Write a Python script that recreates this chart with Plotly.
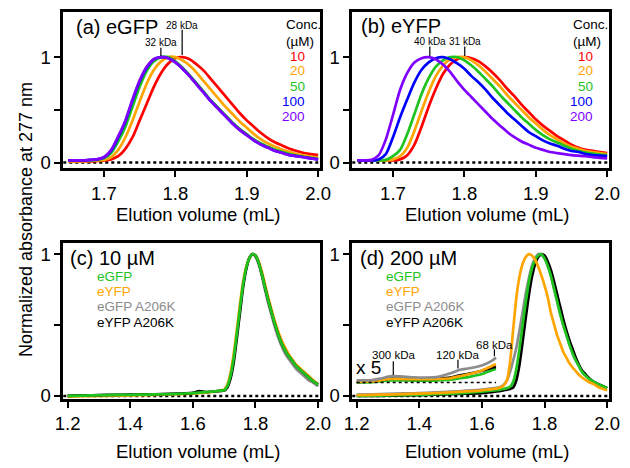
import plotly.graph_objects as go

W, H = 630, 468
FONT = "Liberation Sans, Arial, Helvetica, sans-serif"

def px(X):
    return X / W

def py(Y):
    return 1 - Y / H

# ---------------- data ----------------
conc_labels = ["10", "20", "50", "100", "200"]
conc_colors = ["#FF0000", "#FFA500", "#1FC41F", "#0000FF", "#7F00FF"]

x_top = [round(1.65 + 0.01 * i, 2) for i in range(36)]

# panel (a) eGFP
a_10 = [0.01, 0.01, 0.01, 0.01, 0.015, 0.02, 0.03, 0.06, 0.13, 0.24, 0.40, 0.56, 0.72, 0.85, 0.94, 0.99, 1.00, 0.98,
        0.93, 0.87, 0.79, 0.71, 0.63, 0.55, 0.47, 0.40, 0.34, 0.28, 0.23, 0.19, 0.16, 0.13, 0.11, 0.09, 0.08, 0.07]
a_20 = [0.01, 0.01, 0.01, 0.015, 0.02, 0.025, 0.05, 0.12, 0.24, 0.40, 0.58, 0.75, 0.88, 0.96, 1.00, 1.00, 0.97, 0.92,
        0.85, 0.77, 0.69, 0.61, 0.53, 0.46, 0.39, 0.33, 0.27, 0.22, 0.18, 0.15, 0.12, 0.10, 0.08, 0.065, 0.055, 0.05]
a_50 = [0.02, 0.02, 0.02, 0.02, 0.025, 0.04, 0.09, 0.20, 0.34, 0.53, 0.72, 0.87, 0.96, 1.00, 1.00, 0.96, 0.90, 0.83,
        0.75, 0.67, 0.59, 0.52, 0.45, 0.38, 0.32, 0.27, 0.22, 0.18, 0.15, 0.12, 0.10, 0.08, 0.065, 0.055, 0.045, 0.035]
a_100 = [0.02, 0.02, 0.02, 0.025, 0.03, 0.05, 0.11, 0.24, 0.39, 0.59, 0.77, 0.90, 0.98, 1.00, 0.99, 0.95, 0.89, 0.82,
         0.74, 0.66, 0.58, 0.51, 0.44, 0.37, 0.31, 0.26, 0.21, 0.17, 0.14, 0.11, 0.09, 0.07, 0.06, 0.05, 0.04, 0.03]
a_200 = [0.02, 0.02, 0.02, 0.025, 0.03, 0.05, 0.12, 0.25, 0.40, 0.60, 0.78, 0.91, 0.98, 1.00, 0.99, 0.95, 0.89, 0.82,
         0.74, 0.66, 0.58, 0.51, 0.44, 0.37, 0.31, 0.26, 0.21, 0.17, 0.14, 0.11, 0.09, 0.07, 0.06, 0.05, 0.04, 0.03]

# panel (b) eYFP
b_10 = [0.02, 0.02, 0.02, 0.02, 0.02, 0.02, 0.03, 0.07, 0.17, 0.34, 0.53, 0.70, 0.84, 0.93, 0.98, 1.00, 0.99, 0.96,
        0.91, 0.85, 0.78, 0.70, 0.63, 0.55, 0.48, 0.41, 0.35, 0.30, 0.25, 0.21, 0.17, 0.14, 0.12, 0.11, 0.10, 0.09]
b_20 = [0.02, 0.02, 0.02, 0.02, 0.02, 0.03, 0.06, 0.14, 0.30, 0.49, 0.67, 0.82, 0.92, 0.98, 1.00, 1.00, 0.97, 0.92,
        0.86, 0.79, 0.72, 0.64, 0.57, 0.50, 0.43, 0.37, 0.31, 0.26, 0.22, 0.18, 0.15, 0.13, 0.11, 0.10, 0.09, 0.08]
b_50 = [0.02, 0.02, 0.02, 0.02, 0.025, 0.06, 0.12, 0.27, 0.46, 0.65, 0.80, 0.91, 0.97, 1.00, 1.00, 0.97, 0.92, 0.86,
        0.79, 0.72, 0.64, 0.57, 0.50, 0.43, 0.37, 0.31, 0.26, 0.22, 0.19, 0.16, 0.13, 0.11, 0.095, 0.085, 0.075, 0.07]
b_100 = [0.02, 0.02, 0.02, 0.03, 0.08, 0.24, 0.43, 0.60, 0.76, 0.88, 0.95, 0.99, 1.00, 0.98, 0.94, 0.89, 0.82, 0.76,
         0.69, 0.61, 0.54, 0.47, 0.41, 0.35, 0.29, 0.25, 0.21, 0.18, 0.16, 0.13, 0.11, 0.10, 0.08, 0.07, 0.065, 0.06]
b_200 = [0.02, 0.02, 0.025, 0.07, 0.22, 0.45, 0.69, 0.85, 0.95, 0.99, 1.00, 0.98, 0.93, 0.86, 0.77, 0.69, 0.62, 0.55,
         0.48, 0.41, 0.35, 0.29, 0.24, 0.20, 0.17, 0.14, 0.12, 0.10, 0.09, 0.08, 0.07, 0.065, 0.06, 0.05, 0.045, 0.04]

# bottom panels
x_bot = [1.20, 1.25, 1.30, 1.35, 1.40, 1.45, 1.50, 1.55, 1.60, 1.62, 1.64, 1.66, 1.67] + \
        [round(1.68 + 0.01 * i, 2) for i in range(33)]
prot_labels = ["eGFP", "eYFP", "eGFP A206K", "eYFP A206K"]
prot_colors = ["#1FC41F", "#FFA500", "#8C8C8C", "#000000"]

# panel (c) 10 uM
c_egfp = [0.0, 0.003, 0.005, 0.007, 0.008, 0.01, 0.012, 0.015, 0.02, 0.023, 0.027, 0.03, 0.032,
          0.035, 0.038, 0.04, 0.07, 0.14, 0.26, 0.43, 0.61, 0.78, 0.90, 0.97, 1.00, 0.99, 0.94, 0.86,
          0.77, 0.68, 0.60, 0.52, 0.45, 0.39, 0.34, 0.30, 0.27, 0.24, 0.21, 0.19, 0.17, 0.15, 0.13, 0.11, 0.095, 0.08]
c_eyfp = [-0.005, -0.002, 0.0, 0.002, 0.004, 0.006, 0.009, 0.012, 0.017, 0.02, 0.024, 0.028, 0.03,
          0.034, 0.04, 0.045, 0.08, 0.16, 0.29, 0.46, 0.64, 0.80, 0.91, 0.97, 1.00, 0.99, 0.95, 0.88,
          0.79, 0.70, 0.62, 0.54, 0.47, 0.41, 0.36, 0.32, 0.28, 0.25, 0.22, 0.20, 0.18, 0.16, 0.14, 0.12, 0.10, 0.085]
c_egfp_k = [0.0, 0.002, 0.004, 0.006, 0.008, 0.01, 0.012, 0.015, 0.02, 0.023, 0.026, 0.03, 0.032,
            0.034, 0.037, 0.04, 0.07, 0.14, 0.26, 0.43, 0.61, 0.78, 0.90, 0.97, 1.00, 0.98, 0.93, 0.85,
            0.75, 0.66, 0.58, 0.50, 0.43, 0.37, 0.32, 0.28, 0.25, 0.22, 0.19, 0.17, 0.15, 0.13, 0.11, 0.10, 0.085, 0.07]
c_eyfp_k = [0.0, 0.004, 0.006, 0.008, 0.009, 0.011, 0.013, 0.016, 0.022, 0.035, 0.028, 0.03, 0.032,
            0.034, 0.036, 0.038, 0.06, 0.12, 0.23, 0.40, 0.58, 0.76, 0.89, 0.97, 1.00, 0.99, 0.94, 0.86,
            0.77, 0.68, 0.60, 0.52, 0.45, 0.39, 0.34, 0.30, 0.27, 0.24, 0.21, 0.19, 0.17, 0.15, 0.13, 0.11, 0.095, 0.08]

# panel (d) 200 uM
d_egfp = [0.0, 0.002, 0.004, 0.006, 0.008, 0.012, 0.016, 0.022, 0.03, 0.035, 0.04, 0.045, 0.05,
          0.055, 0.065, 0.10, 0.19, 0.33, 0.50, 0.66, 0.80, 0.90, 0.96, 0.99, 1.00, 0.97, 0.92, 0.85,
          0.76, 0.67, 0.58, 0.50, 0.43, 0.36, 0.30, 0.25, 0.21, 0.17, 0.145, 0.125, 0.11, 0.095, 0.085, 0.075, 0.065, 0.055]
d_eyfp = [0.005, 0.008, 0.01, 0.013, 0.016, 0.02, 0.025, 0.032, 0.04, 0.045, 0.05, 0.06, 0.075,
          0.11, 0.24, 0.47, 0.69, 0.84, 0.93, 0.98, 1.00, 0.99, 0.96, 0.91, 0.85, 0.78, 0.70, 0.59,
          0.51, 0.43, 0.37, 0.31, 0.27, 0.23, 0.20, 0.175, 0.15, 0.13, 0.115, 0.10, 0.09, 0.08, 0.065, 0.055, 0.048, 0.04]
d_egfp_k = [0.01, 0.012, 0.015, 0.018, 0.02, 0.025, 0.03, 0.037, 0.045, 0.05, 0.055, 0.065, 0.08,
            0.11, 0.17, 0.25, 0.34, 0.46, 0.59, 0.72, 0.83, 0.92, 0.97, 1.00, 0.995, 0.97, 0.92, 0.85,
            0.76, 0.67, 0.58, 0.50, 0.43, 0.36, 0.30, 0.25, 0.21, 0.17, 0.145, 0.125, 0.11, 0.095, 0.085, 0.075, 0.065, 0.055]
d_eyfp_k = [0.0, 0.0, 0.002, 0.004, 0.006, 0.009, 0.012, 0.016, 0.02, 0.025, 0.03, 0.035, 0.04,
            0.045, 0.05, 0.06, 0.11, 0.22, 0.38, 0.55, 0.71, 0.84, 0.93, 0.98, 1.00, 0.99, 0.95, 0.89,
            0.81, 0.72, 0.63, 0.54, 0.46, 0.39, 0.33, 0.27, 0.22, 0.18, 0.155, 0.13, 0.11, 0.095, 0.085, 0.075, 0.065, 0.055]

# x5 magnified baseline region in panel (d)
x_mag = [1.20, 1.25, 1.28, 1.31, 1.34, 1.38, 1.42, 1.46, 1.50, 1.53, 1.56, 1.60, 1.63, 1.645]
mag_egfp = [0.095, 0.097, 0.105, 0.11, 0.11, 0.108, 0.108, 0.11, 0.115, 0.125, 0.135, 0.155, 0.18, 0.19]
mag_eyfp = [0.10, 0.102, 0.112, 0.12, 0.12, 0.118, 0.118, 0.12, 0.125, 0.14, 0.155, 0.18, 0.21, 0.225]
mag_egfp_k = [0.11, 0.112, 0.125, 0.14, 0.138, 0.132, 0.13, 0.135, 0.16, 0.185, 0.195, 0.215, 0.245, 0.27]
mag_eyfp_k = [0.10, 0.102, 0.113, 0.122, 0.122, 0.12, 0.12, 0.122, 0.13, 0.145, 0.158, 0.178, 0.198, 0.205]
mag_baseline = 0.095

# ---------------- figure ----------------
fig = go.Figure()
LW = 2.7

def add(x, y, color, xa, ya, width=LW):
    fig.add_trace(go.Scatter(x=x, y=y, mode="lines", xaxis=xa, yaxis=ya,
                             line=dict(color=color, width=width, shape="spline", smoothing=0.7),
                             showlegend=False, hoverinfo="skip"))

for ys, col in zip([a_10, a_20, a_50, a_100, a_200], conc_colors):
    add(x_top, ys, col, "x", "y")
for ys, col in zip([b_10, b_20, b_50, b_100, b_200], conc_colors):
    add(x_top, ys, col, "x2", "y2")

# panel (c): draw order gray, orange, black, green
for ys, col in [(c_egfp_k, prot_colors[2]), (c_eyfp, prot_colors[1]), (c_eyfp_k, prot_colors[3]), (c_egfp, prot_colors[0])]:
    add(x_bot, ys, col, "x3", "y3")

# panel (d)
for ys, col in [(d_egfp_k, prot_colors[2]), (d_eyfp_k, prot_colors[3]), (d_egfp, prot_colors[0]), (d_eyfp, prot_colors[1])]:
    add(x_bot, ys, col, "x4", "y4")
for ys, col in [(mag_egfp, prot_colors[0]), (mag_eyfp_k, prot_colors[3]), (mag_eyfp, prot_colors[1]), (mag_egfp_k, prot_colors[2])]:
    add(x_mag, ys, col, "x4", "y4")

# x5 dashed baseline
fig.add_trace(go.Scatter(x=[x_mag[0], x_mag[-1]], y=[mag_baseline, mag_baseline], mode="lines",
                         xaxis="x4", yaxis="y4", line=dict(color="black", width=1.3, dash="3px,3px"),
                         showlegend=False, hoverinfo="skip"))

axis_common = dict(showline=True, linecolor="black", linewidth=2.8, mirror=True, ticks="outside",
                   ticklen=6, tickwidth=2, tickcolor="black", showgrid=False, zeroline=False,
                   tickfont=dict(family=FONT, size=18.5, color="black"))

top_x = dict(range=[1.643, 2.003], tickvals=[1.7, 1.8, 1.9, 2.0], ticktext=["1.7", "1.8", "1.9", "2.0"])
bot_x = dict(range=[1.186, 2.007], tickvals=[1.2, 1.4, 1.6, 1.8, 2.0], ticktext=["1.2", "1.4", "1.6", "1.8", "2.0"])
top_y = dict(range=[-0.056, 1.43], tickvals=[0, 0.5, 1], ticktext=["0", "", "1"])
bot_y = dict(range=[-0.021, 1.076], tickvals=[0, 0.5, 1], ticktext=["0", "", "1"])

dom_left = [px(57), px(322)]
dom_right = [px(355), px(620)]
dom_top = [py(171), py(12)]
dom_bot = [py(405), py(247)]

fig.update_layout(
    width=W, height=H, margin=dict(l=0, r=0, t=0, b=0),
    paper_bgcolor="white", plot_bgcolor="white",
    font=dict(family=FONT, color="black"),
    xaxis=dict(domain=dom_left, anchor="y", **top_x, **axis_common),
    yaxis=dict(domain=dom_top, anchor="x", **top_y, **axis_common),
    xaxis2=dict(domain=dom_right, anchor="y2", **top_x, **axis_common),
    yaxis2=dict(domain=dom_top, anchor="x2", **top_y, **axis_common),
    xaxis3=dict(domain=dom_left, anchor="y3", **bot_x, **axis_common),
    yaxis3=dict(domain=dom_bot, anchor="x3", **bot_y, **axis_common),
    xaxis4=dict(domain=dom_right, anchor="y4", **bot_x, **axis_common),
    yaxis4=dict(domain=dom_bot, anchor="x4", **bot_y, **axis_common),
)

# dotted zero lines
for xr, yr in [("x", "y"), ("x2", "y2"), ("x3", "y3"), ("x4", "y4")]:
    fig.add_shape(type="line", xref=xr + " domain", yref=yr, x0=0, x1=1, y0=0, y1=0,
                  line=dict(color="black", width=2.6, dash="dot"), layer="below")

ann = []

def text(X, Y, s, size, color="black", xanchor="left"):
    ann.append(dict(x=px(X), y=py(Y), xref="paper", yref="paper", text=s, showarrow=False,
                    xanchor=xanchor, yanchor="middle", font=dict(family=FONT, size=size, color=color)))

# panel titles
text(68, 27, "(a) eGFP", 20)
text(362, 26, "(b) eYFP", 20)
text(62, 262, "(c) 10 µM", 20)
text(361, 262, "(d) 200 µM", 20)

# concentration legends
for ox, rx in [(285, 308), (581, 605)]:
    text(ox, 25, "Conc.", 13.5)
    text(ox, 42, "(µM)", 13.5)
    for lab, col, yy in zip(conc_labels, conc_colors, [57, 72, 88, 103, 118]):
        text(rx, yy, lab, 13.5, color=col, xanchor="right")

# protein legends
for ox in [90, 388]:
    for lab, col, yy in zip(prot_labels, prot_colors, [281, 296, 311, 327]):
        text(ox, yy, lab, 13.5, color=col)

# axis titles
for cx in [196, 494]:
    text(cx, 218, "Elution volume (mL)", 18.5, xanchor="center")
    text(cx, 458, "Elution volume (mL)", 18.5, xanchor="center")
ann.append(dict(x=px(18), y=py(223), xref="paper", yref="paper", text="Normalized absorbance at 277 nm",
                showarrow=False, textangle=-90, xanchor="center", yanchor="middle",
                font=dict(family=FONT, size=18, color="black")))

# molecular weight markers
def marker(xr, yr, xv, y0, y1, label, ylab, size=10):
    fig.add_shape(type="line", xref=xr, yref=yr, x0=xv, x1=xv, y0=y0, y1=y1,
                  line=dict(color="black", width=1.2))
    ann.append(dict(x=xv, y=ylab, xref=xr, yref=yr, text=label, showarrow=False,
                    xanchor="center", yanchor="middle", font=dict(family=FONT, size=size, color="black")))

marker("x", "y", 1.8095, 1.02, 1.26, "28 kDa", 1.30)
marker("x", "y", 1.7797, 1.01, 1.09, "32 kDa", 1.14)
marker("x2", "y2", 1.7516, 1.01, 1.10, "40 kDa", 1.15)
marker("x2", "y2", 1.8005, 1.01, 1.10, "31 kDa", 1.15)
marker("x4", "y4", 1.317, 0.148, 0.245, "300 kDa", 0.29, 11.5)
marker("x4", "y4", 1.5235, 0.194, 0.255, "120 kDa", 0.29, 11.5)
marker("x4", "y4", 1.640, 0.28, 0.33, "68 kDa", 0.36, 11.5)

text(357, 373, "x 5", 19)

fig.update_layout(annotations=ann)
fig.write_html("out.html")
